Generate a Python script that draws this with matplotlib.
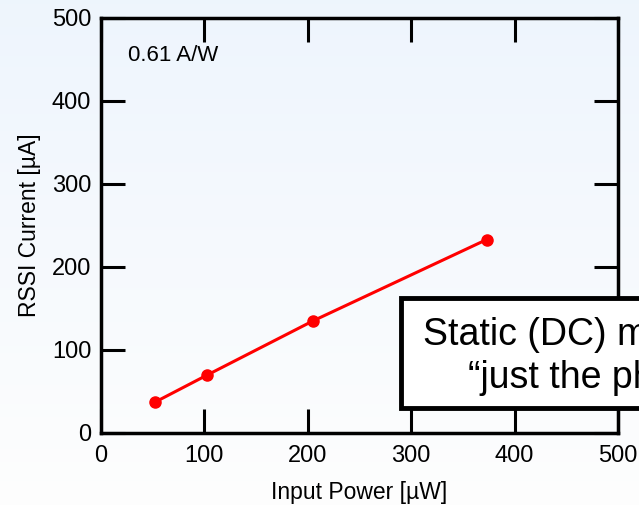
import matplotlib.pyplot as plt
import numpy as np
from matplotlib.patches import Rectangle

plt.rcParams['font.family'] = ['Liberation Sans', 'DejaVu Sans']

# measured photocurrent vs optical input power
power_uw = [52, 103, 205, 373]
current_ua = [37, 70, 135, 233]
responsivity = "0.61 A/W"
ticks = [0, 100, 200, 300, 400, 500]
box_lines = ["Static (DC) measurement:", "\u201cjust the photodiode\u201d"]

fig = plt.figure(figsize=(6.39, 5.05), dpi=100)

# soft blue-to-white background
bg = fig.add_axes([0, 0, 1, 1], zorder=-10)
grad = np.linspace(0, 1, 256).reshape(-1, 1)
top = np.array([0.933, 0.961, 0.992])
bot = np.array([0.995, 0.995, 0.995])
img = top + (bot - top) * grad[..., None]
bg.imshow(img, aspect='auto', extent=[0, 1, 0, 1])
bg.axis('off')

ax = fig.add_axes([0.158, 0.1426, 0.809, 0.8218])
ax.patch.set_alpha(0)
ax.plot(power_uw, current_ua, color='#ff0000', lw=2.2, marker='o', ms=8,
        clip_on=False)

ax.set_xlim(0, 500)
ax.set_ylim(0, 500)
ax.set_xticks(ticks)
ax.set_yticks(ticks)
ax.tick_params(direction='in', length=17, width=2.2, top=True, right=True,
               labelsize=17, colors='black')
ax.tick_params(axis='x', pad=9)
ax.tick_params(axis='y', pad=7)
for s in ax.spines.values():
    s.set_linewidth(2.5)
ax.set_xlabel("Input Power [\u00b5W]", fontsize=16.5, labelpad=10)
ax.set_ylabel("RSSI Current [\u00b5A]", fontsize=16.5, labelpad=8)
ax.text(0.052, 0.935, responsivity, transform=ax.transAxes, fontsize=16,
        va='top', ha='left')

# callout box running off the right edge
fig.patches.append(Rectangle((401 / 639, 1 - 408 / 505), 0.5, 110 / 505,
                             transform=fig.transFigure, facecolor='white',
                             edgecolor='black', lw=3.5, zorder=5))
fig.text(423 / 639, 1 - 345 / 505, box_lines[0], fontsize=27,
         ha='left', va='baseline', zorder=6)
fig.text(468 / 639, 1 - 388 / 505, box_lines[1], fontsize=27,
         ha='left', va='baseline', zorder=6)

fig.savefig("out.png", dpi=100)
